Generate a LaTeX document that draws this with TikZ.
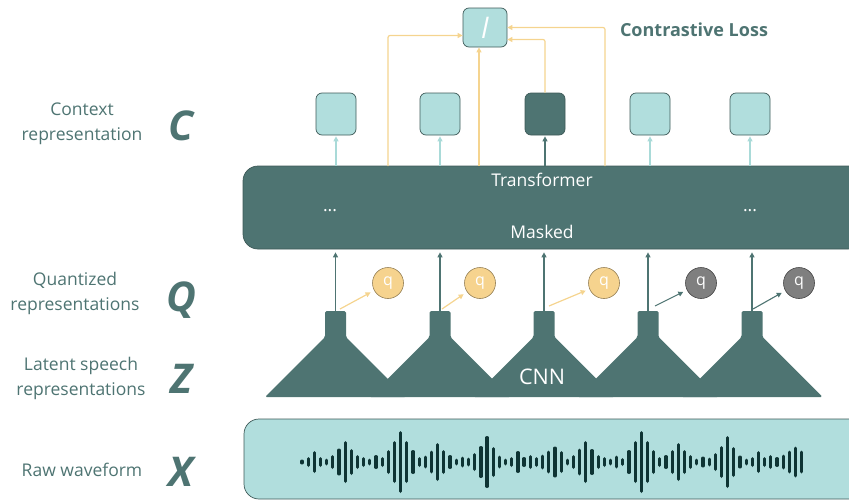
\documentclass[tikz,border=0pt]{standalone}
\usepackage{fontspec}
\setmainfont{Open Sans}
\usetikzlibrary{arrows.meta}
\definecolor{tealdk}{HTML}{4E7472}
\definecolor{tealedge}{HTML}{3E5A58}
\definecolor{teallt}{HTML}{B1DEDD}
\definecolor{arrowlt}{HTML}{A9DAD8}
\definecolor{ylw}{HTML}{F6D38E}
\definecolor{ylwline}{HTML}{F5D48F}
\definecolor{qgrey}{HTML}{7F7F7F}
\definecolor{wavedk}{HTML}{0E3434}
\begin{document}
\begin{tikzpicture}[x=1pt,y=-1pt,
  tip/.style={-{Triangle[length=5pt,width=5pt]}},
  lbl/.style={text=tealdk, font=\fontsize{17.5}{25}\selectfont, align=center},
  letter/.style={text=tealdk, font=\fontsize{41}{41}\selectfont\bfseries\itshape},
  wtext/.style={text=white, font=\fontsize{17.5}{20}\selectfont},
  ctxbox/.style={draw=tealedge, line width=0.7pt, fill=teallt, rounded corners=6pt,
    minimum width=40pt, minimum height=42pt, inner sep=0pt},
  qball/.style={circle, minimum size=31pt, inner sep=0pt, line width=0.6pt,
    text=white, font=\fontsize{16}{16}\selectfont},
  qy/.style={qball, fill=ylw, draw=ylw!60!black},
  qg/.style={qball, fill=qgrey, draw=qgrey!55!black},
  ylwarrow/.style={tip, draw=ylwline, line width=1.2pt, rounded corners=2pt},
  ltarrow/.style={tip, draw=arrowlt, line width=1.1pt},
  dkarrow/.style={tip, draw=tealdk, line width=1.1pt},
  cnnunit/.style={fill=tealdk, rounded corners=1.5pt},
  bar/.style={draw=wavedk, line width=3.2pt, line cap=round}
]
\useasboundingbox (0,0) rectangle (849,501);

% ---- row labels ----
\node[lbl] at (82,124) {Context\\representation};
\node[letter] at (181,126) {C};
\node[lbl] at (75,293) {Quantized\\representations};
\node[letter] at (181,300) {Q};
\node[lbl] at (81,378) {Latent speech\\representations};
\node[letter] at (181,379) {Z};
\node[lbl] at (82,470) {Raw waveform};
\node[letter] at (181,472) {X};

% ---- raw waveform ----
\node[draw=tealedge, line width=0.7pt, fill=teallt, rounded corners=15pt,
  minimum width=620pt, minimum height=80pt, inner sep=0pt] (W) at (554,459) {};
\foreach \h [count=\i from 0] in {5,10,22,10,7,14,27,42,26,14,10,7,14,10,24,42,62,42,24,10,
  13,23,38,24,14,7,11,9,18,32,52,30,13,7,10,22,10,14,10,15,23,31,22,7,
  14,27,42,26,14,10,7,13,8,24,42,62,42,24,10,14,24,38,24,14,7,11,9,18,32,52,30,13,7,10,22,10,14,10,15,23,31,23}
  \draw[bar] ({302+\i*6.169},{462-\h/2+1.6}) -- ({302+\i*6.169},{462+\h/2-1.6});

% ---- CNN encoder ----
\foreach \cx [count=\k] in {335.5,440,544,648,752} {
  \fill[cnnunit] (\cx-10.5,311) -- (\cx+10.5,311) -- (\cx+10.5,337) -- (\cx+70.5,397)
    -- (\cx-70.5,397) -- (\cx-10.5,337) -- cycle;
  \coordinate (s\k) at (\cx,311);
}
\node[text=white, font=\fontsize{21.5}{22}\selectfont] (cnn) at (542,377) {CNN};

% ---- transformer ----
\node[draw=tealedge, line width=0.7pt, fill=tealdk, rounded corners=15pt,
  minimum width=620pt, minimum height=83pt, inner sep=0pt] (T) at (553,207.5) {};
\node[wtext] at (542,180) {Transformer};
\node[wtext] at (542,232) {Masked};
\node[wtext] at (330,211) {...};
\node[wtext] at (750,211) {...};

% ---- quantizer outputs ----
\node[qy] (q1) at (388,283) {q};
\node[qy] (q2) at (480,283) {q};
\node[qy] (q3) at (604,283) {q};
\node[qg] (q4) at (701,283) {q};
\node[qg] (q5) at (799,283) {q};

\coordinate (d1) at (340,309);
\coordinate (d2) at (442,309);
\coordinate (d3) at (549,306);
\coordinate (d4) at (655,306);
\coordinate (d5) at (753,309);
\draw[ylwarrow, shorten >=4pt] (d1) -- (q1);
\draw[ylwarrow, shorten >=4pt] (d2) -- (q2);
\draw[ylwarrow, shorten >=4pt] (d3) -- (q3);
\draw[dkarrow, shorten >=4pt] (d4) -- (q4);
\draw[dkarrow, shorten >=4pt] (d5) -- (q5);

% stems feed the transformer
\foreach \k in {1,...,5}
  \draw[dkarrow, shorten >=3pt] (s\k) -- (s\k |- T.south);

% ---- context representations ----
\node[ctxbox] (c1) at (336,114) {};
\node[ctxbox] (c2) at (440,114) {};
\node[ctxbox, fill=tealdk] (c3) at (545,114) {};
\node[ctxbox] (c4) at (650,114) {};
\node[ctxbox] (c5) at (750,114) {};

\draw[ltarrow, shorten >=1pt] (c1 |- T.north) -- (c1.south);
\draw[ltarrow, shorten >=1pt] (c2 |- T.north) -- (c2.south);
\draw[dkarrow, shorten >=1pt] (c3 |- T.north) -- (c3.south);
\draw[ltarrow, shorten >=1pt] (c4 |- T.north) -- (c4.south);
\draw[ltarrow, shorten >=1pt] (c5 |- T.north) -- (c5.south);

% ---- contrastive loss ----
\node[ctxbox, minimum width=44pt, minimum height=39pt] (L) at (485,27.5)
  {\color{white}\fontsize{28}{28}\selectfont\itshape l};
\node[text=tealdk, font=\fontsize{18}{20}\selectfont\bfseries] at (694,30) {Contrastive Loss};

\coordinate (t1) at (388,166);
\coordinate (t2) at (479,166);
\coordinate (t3) at (605,166);
\draw[ylwarrow] (t1) |- ([yshift=-8pt]L.west);
\draw[ylwarrow] (t2) -- (t2 |- L.south);
\draw[ylwarrow] (c3.north) |- ([yshift=-12pt]L.east);
\draw[ylwarrow] (t3) |- (L.east);
\end{tikzpicture}
\end{document}
